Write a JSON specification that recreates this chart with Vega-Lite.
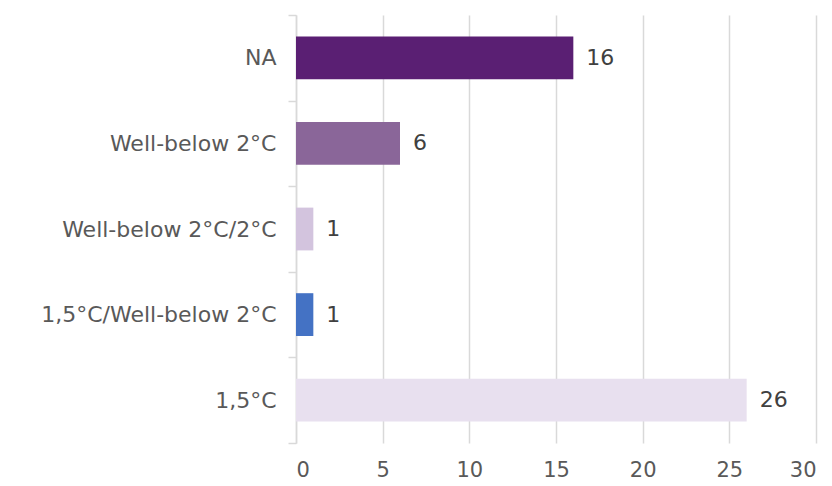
{
  "$schema": "https://vega.github.io/schema/vega-lite/v6.json",
  "width": 832,
  "height": 486,
  "autosize": {"type": "fit", "contains": "padding"},
  "padding": {"top": 4, "right": 16, "bottom": 6, "left": 40},
  "background": "white",
  "config": {"view": {"stroke": null}, "font": "DejaVu Sans"},
  "data": {"values": [
    {"cat": "NA", "value": 16, "color": "#5A1F73"},
    {"cat": "Well-below 2°C", "value": 6, "color": "#8A6699"},
    {"cat": "Well-below 2°C/2°C", "value": 1, "color": "#D3C4DE"},
    {"cat": "1,5°C/Well-below 2°C", "value": 1, "color": "#4472C4"},
    {"cat": "1,5°C", "value": 26, "color": "#E8E0EF"}
  ]},
  "encoding": {
    "y": {"field": "cat", "type": "nominal", "sort": null,
      "scale": {"paddingInner": 0, "paddingOuter": 0},
      "axis": {"title": null, "tickBand": "extent", "tickSize": 8, "tickColor": "#d9d9d9", "tickWidth": 1.5,
        "domainColor": "#d9d9d9", "domainWidth": 1.5, "labelFontSize": 22, "labelColor": "#595959",
        "labelPadding": 12, "labelLimit": 400, "grid": false}},
    "x": {"field": "value", "type": "quantitative",
      "scale": {"domain": [0, 30]},
      "axis": {"title": null, "values": [0, 5, 10, 15, 20, 25, 30], "domain": false, "ticks": false,
        "grid": true, "gridColor": "#d9d9d9", "gridWidth": 1.5,
        "labelFontSize": 21, "labelColor": "#595959", "labelPadding": 16}}
  },
  "layer": [
    {"mark": {"type": "bar", "height": {"band": 0.5}}, "encoding": {"color": {"field": "color", "type": "nominal", "scale": null}}},
    {"mark": {"type": "text", "align": "left", "dx": 13, "fontSize": 22, "color": "#404040"},
      "encoding": {"text": {"field": "value", "type": "quantitative"}}}
  ]
}
